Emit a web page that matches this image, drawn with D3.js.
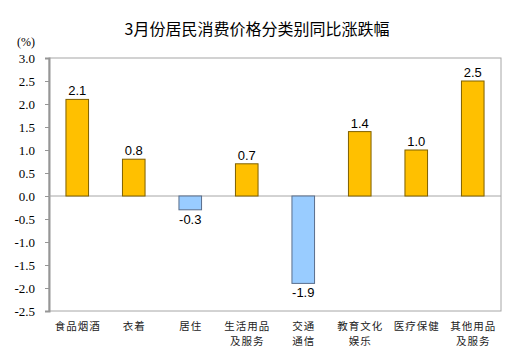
<!DOCTYPE html>
<html>
<head>
<meta charset="utf-8">
<script src="https://cdn.jsdelivr.net/npm/d3@7"></script>
<style>
  body { margin: 0; background: #fff; }
</style>
</head>
<body>
<svg></svg>
<script>
let categories = [["食品烟酒"], ["衣着"], ["居住"], ["生活用品", "及服务"], ["交通", "通信"], ["教育文化", "娱乐"], ["医疗保健"], ["其他用品", "及服务"]];
let values = [2.1, 0.8, -0.3, 0.7, -1.9, 1.4, 1.0, 2.5];
let yTicks = [3.0, 2.5, 2.0, 1.5, 1.0, 0.5, 0.0, -0.5, -1.0, -1.5, -2.0, -2.5];
let title = "3月份居民消费价格分类别同比涨跌幅";

let width = 532;
let height = 361;

let plot = {
    left: 49,
    right: 501,
    top: 58,
    bottom: 311
}

// plain hyphen for negatives, like the original
let fmt = d => d.toFixed(1);

let svg = d3.select("svg")
            .attr("width", width)
            .attr("height", height)
            .style("background-color", "white");

let scaleX = d3.scaleBand()
               .domain(d3.range(values.length))
               .range([plot.left, plot.right])
               .paddingInner(0.6)
               .paddingOuter(0.3);

let scaleY = d3.scaleLinear()
               .domain([-2.5, 3.0])
               .range([plot.bottom, plot.top]);

// title
svg.append("text")
   .attr("x", 257)
   .attr("y", 35)
   .attr("text-anchor", "middle")
   .style("font-family", "'Noto Sans CJK SC', sans-serif")
   .style("font-size", "16px")
   .attr("fill", "#000")
   .text(title);

// unit
svg.append("text")
   .attr("x", 26)
   .attr("y", 46)
   .attr("text-anchor", "middle")
   .style("font-family", "'Liberation Serif', serif")
   .style("font-size", "12px")
   .text("(%)");

// frame
svg.append("rect")
   .attr("x", plot.left)
   .attr("y", plot.top)
   .attr("width", plot.right - plot.left)
   .attr("height", plot.bottom - plot.top)
   .attr("fill", "none")
   .attr("stroke", "#a6a6a6")
   .attr("stroke-width", 1);

// y axis
let yAxis = d3.axisLeft(scaleY)
              .tickValues(yTicks)
              .tickFormat(fmt)
              .tickSize(4)
              .tickPadding(10);

let gy = svg.append("g")
   .attr("transform", `translate(${plot.left}, 0)`)
   .call(yAxis);
gy.select(".domain").attr("stroke", "#969696").attr("stroke-width", 2);
gy.selectAll(".tick line").attr("stroke", "#969696");
gy.selectAll(".tick text")
  .style("font-family", "'Liberation Serif', serif")
  .style("font-size", "13px")
  .attr("fill", "#000");

// zero line
svg.append("line")
   .attr("x1", plot.left)
   .attr("x2", plot.right)
   .attr("y1", scaleY(0))
   .attr("y2", scaleY(0))
   .attr("stroke", "#a6a6a6")
   .attr("stroke-width", 1);

// bars
svg.selectAll(".bar")
   .data(values)
   .enter()
   .append("rect")
   .attr("class", "bar")
   .attr("x", (d, i) => scaleX(i))
   .attr("y", d => scaleY(Math.max(0, d)))
   .attr("width", scaleX.bandwidth())
   .attr("height", d => Math.abs(scaleY(d) - scaleY(0)))
   .attr("fill", d => d >= 0 ? "#ffc000" : "#99ccff")
   .attr("stroke", d => d >= 0 ? "#7f6000" : "#5a6e8c")
   .attr("stroke-width", 1);

// value labels
svg.selectAll(".val")
   .data(values)
   .enter()
   .append("text")
   .attr("class", "val")
   .attr("x", (d, i) => scaleX(i) + scaleX.bandwidth() / 2)
   .attr("y", d => d >= 0 ? scaleY(d) - 4 : scaleY(d) + 14)
   .attr("text-anchor", "middle")
   .style("font-family", "'Liberation Sans', Arial, sans-serif")
   .style("font-size", "13px")
   .attr("fill", "#000")
   .text(fmt);

// category labels, one text per line
categories.forEach((lines, i) => {
    svg.selectAll(null)
       .data(lines)
       .enter()
       .append("text")
       .attr("x", scaleX(i) + scaleX.bandwidth() / 2 + 0.5)
       .attr("y", (d, j) => 330 + j * 15)
       .attr("text-anchor", "middle")
       .style("font-family", "'Noto Sans CJK SC', sans-serif")
       .style("font-size", "10.5px")
       .style("letter-spacing", "1px")
       .attr("fill", "#222")
       .text(d => d);
});
</script>
</body>
</html>
